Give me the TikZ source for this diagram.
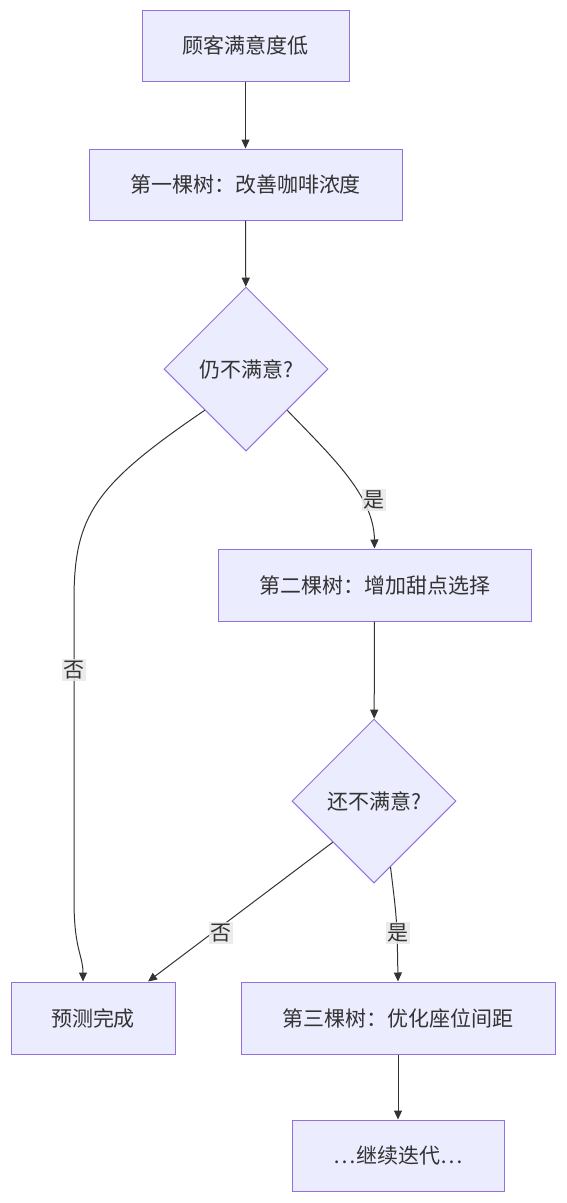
\documentclass[tikz,border=0pt]{standalone}
\usepackage{fontspec}
\setmainfont{Noto Sans CJK SC}
\usetikzlibrary{shapes.geometric,arrows.meta,calc}
\definecolor{nodefill}{HTML}{ECECFF}
\definecolor{nodeline}{HTML}{9370DB}
\definecolor{txt}{HTML}{333333}
\definecolor{lblbg}{HTML}{E8E8E8}
\tikzset{
  box/.style={draw=nodeline,fill=nodefill,line width=1pt,text=txt,inner sep=0pt,font=\fontsize{21pt}{24pt}\selectfont},
  decision/.style={diamond,draw=nodeline,fill=nodefill,line width=1pt,text=txt,inner sep=0pt,minimum width=164pt,minimum height=164pt,font=\fontsize{21pt}{24pt}\selectfont},
  conn/.style={draw=txt,line width=1pt,-{Triangle[length=9pt,width=8pt]}},
  lbl/.style={fill=lblbg,fill opacity=0.85,text opacity=1,text=txt,inner sep=1.5pt,font=\fontsize{21pt}{24pt}\selectfont}
}
\begin{document}
\begin{tikzpicture}[x=1pt,y=-1pt]
\useasboundingbox (0,0) rectangle (566,1203);
\node[box,minimum width=207pt,minimum height=71pt] (A) at (245.5,45.5) {顾客满意度低};
\node[box,minimum width=313pt,minimum height=71pt] (B) at (245.5,184.5) {第一棵树：改善咖啡浓度};
\node[decision] (C) at (246,369) {仍不满意?};
\node[box,minimum width=313pt,minimum height=72pt] (D) at (374.5,585) {第二棵树：增加甜点选择};
\node[decision] (E) at (374,801) {还不满意?};
\node[box,minimum width=164pt,minimum height=72pt] (F) at (93,1018) {预测完成};
\node[box,minimum width=314pt,minimum height=72pt] (G) at (398,1018) {第三棵树：优化座位间距};
\node[box,minimum width=212pt,minimum height=71pt] (H) at (398,1155.5) {…继续迭代…};

\coordinate (Fin) at ($(F.north)+(-10,0)$);
\coordinate (Fne) at ($(F.north)+(55,0)$);
\coordinate (Ese) at ($(E.south)!0.2!(E.east)$);

\draw[conn] (A) -- (B);
\draw[conn] (B) -- (C);
\draw[conn] (C.south east) .. controls (330,455) and (374,495) .. (D.north);
\draw[conn] (C.south west) .. controls (95,485) and (74,515) .. (74,600) -- (74,900) .. controls (74,950) and (83,955) .. (Fin);
\draw[conn] (D) -- (E);
\draw[conn] (E.south west) -- (Fne);
\draw[conn] (Ese) .. controls (397,920) .. (G.north);
\draw[conn] (G) -- (H);

\node[lbl] (l1) at (374,500) {是};
\node[lbl] (l2) at (74,670) {否};
\node[lbl] (l3) at (221,933) {否};
\node[lbl] (l4) at (398,933) {是};
\end{tikzpicture}
\end{document}
